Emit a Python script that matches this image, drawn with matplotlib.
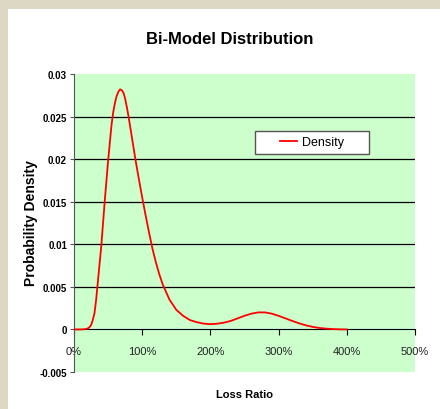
import matplotlib.pyplot as plt
from matplotlib.patches import Rectangle

# loss ratio in percent, density
loss_ratio = [0, 10, 15, 20, 22.5, 25, 27.5, 30, 32.5, 35, 40, 45, 50, 55, 57.5, 60,
              62.5, 65, 67.5, 70, 72.5, 75, 77.5, 80, 85, 90, 95, 100, 105, 110,
              115, 120, 125, 130, 140, 150, 160, 170, 180, 190, 200, 210, 220, 230,
              240, 250, 260, 270, 280, 290, 300, 310, 320, 330, 340, 350, 360, 370,
              380, 390, 400]
density = [0, 0, 0.00002, 0.0001, 0.00025, 0.0005, 0.0011, 0.0019, 0.0035, 0.0056,
           0.0098, 0.0150, 0.0198, 0.0240, 0.0255, 0.0266, 0.0274, 0.0279, 0.0282,
           0.0281, 0.0278, 0.0271, 0.0261, 0.0250, 0.0225, 0.0200, 0.0177, 0.0155,
           0.0134, 0.0114, 0.0095, 0.0079, 0.0065, 0.0053, 0.0035, 0.0023, 0.0016,
           0.0011, 0.00085, 0.00068, 0.00062, 0.00067, 0.00080, 0.0010, 0.0013,
           0.0016, 0.00185, 0.00200, 0.00200, 0.00185, 0.0016, 0.0013, 0.0010,
           0.00072, 0.00048, 0.00030, 0.00017, 0.00009, 0.00004, 0.00001, 0]

x_ticks = [0, 100, 200, 300, 400, 500]
x_labels = ['0%', '100%', '200%', '300%', '400%', '500%']
y_ticks = [-0.005, 0, 0.005, 0.01, 0.015, 0.02, 0.025, 0.03]
y_labels = ['-0.005', '0', '0.005', '0.01', '0.015', '0.02', '0.025', '0.03']
grid_levels = [0.005, 0.01, 0.015, 0.02, 0.025]

plt.rcParams['font.family'] = ['Liberation Sans', 'DejaVu Sans']

W, H = 440, 410
fig = plt.figure(figsize=(W / 100, H / 100), dpi=100)
fig.patch.set_facecolor('#ddd8c4')
fig.patches.append(Rectangle((8 / W, 0), 1, 1 - 10 / H, transform=fig.transFigure,
                             facecolor='white', edgecolor='none', zorder=-10))

ax = fig.add_axes([74 / W, 1 - 373 / H, 341 / W, 298 / H])
ax.set_zorder(1)
ax.set_facecolor('#ccffcc')

ax.hlines(grid_levels, 0, 500, colors='black', linewidth=0.9, zorder=1)
ax.plot(loss_ratio, density, color='red', linewidth=1.3, label='Density', zorder=3,
        solid_joinstyle='round')

ax.set_xlim(0, 500)
ax.set_ylim(-0.005, 0.03)

for s in ['top', 'right']:
    ax.spines[s].set_visible(False)
ax.spines['bottom'].set_position(('data', 0))
ax.spines['bottom'].set_color('black')
ax.spines['left'].set_color('#555555')

ax.set_xticks(x_ticks)
ax.set_xticklabels(x_labels, fontsize=8, color='#222222')
ax.tick_params(axis='x', direction='out', length=4, pad=8, color='black')
ax.set_yticks(y_ticks)
ax.set_yticklabels(y_labels, fontsize=7, fontweight='bold')
ax.tick_params(axis='y', direction='out', length=3, pad=2, color='#555555')

# legend box (Excel draws it wider than its content)
legend_box = Rectangle((255 / W, 1 - 155 / H), 114 / W, 23 / H,
                       transform=fig.transFigure, facecolor='white',
                       edgecolor='#555555', linewidth=1.0, zorder=4)
ax.add_artist(legend_box)
leg = ax.legend(loc='center', bbox_to_anchor=(312 / W, 1 - 143.5 / H),
                bbox_transform=fig.transFigure, fontsize=9, frameon=False,
                handlelength=1.3, handletextpad=0.4, borderpad=0, borderaxespad=0)
leg.set_zorder(5)

fig.text(230 / W, 1 - 40 / H, 'Bi-Model Distribution', ha='center', va='center',
         fontsize=12, fontweight='bold')
fig.text(245 / W, 1 - 395 / H, 'Loss Ratio', ha='center', va='center',
         fontsize=8, fontweight='bold')
fig.text(31 / W, 1 - 223 / H, 'Probability Density', ha='center', va='center',
         rotation=90, fontsize=10, fontweight='bold')

fig.savefig('out.png', dpi=100)
